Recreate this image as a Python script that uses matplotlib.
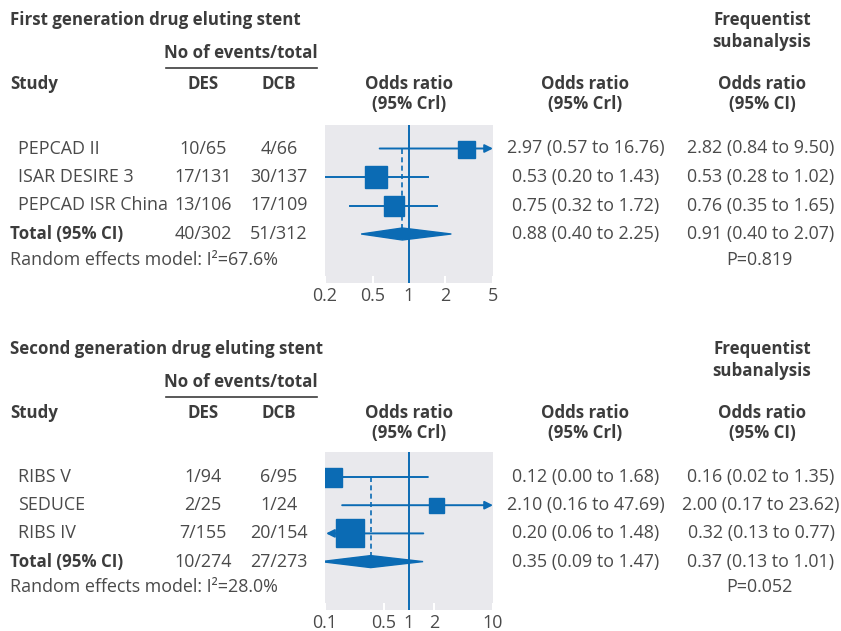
import numpy as np
import matplotlib
matplotlib.use("Agg")
import matplotlib.pyplot as plt
from matplotlib.patches import Polygon
from matplotlib import transforms

plt.rcParams['font.family'] = ['Open Sans', 'DejaVu Sans']

# ---------- data ----------
gen1_titles = "First generation drug eluting stent"
gen1_studies = ["PEPCAD II", "ISAR DESIRE 3", "PEPCAD ISR China"]
gen1_des = ["10/65", "17/131", "13/106"]
gen1_dcb = ["4/66", "30/137", "17/109"]
gen1_total = ("40/302", "51/312")
gen1_or = [2.97, 0.53, 0.75]
gen1_lo = [0.57, 0.20, 0.32]
gen1_hi = [16.76, 1.43, 1.72]
gen1_pool = (0.88, 0.40, 2.25)
gen1_freq = [(2.82, 0.84, 9.50), (0.53, 0.28, 1.02), (0.76, 0.35, 1.65)]
gen1_freq_pool = (0.91, 0.40, 2.07)
gen1_i2 = 67.6
gen1_p = "0.819"
gen1_weight = [17, 23, 20]          # square side, px
gen1_ticks = [0.2, 0.5, 1, 2, 5]

gen2_titles = "Second generation drug eluting stent"
gen2_studies = ["RIBS V", "SEDUCE", "RIBS IV"]
gen2_des = ["1/94", "2/25", "7/155"]
gen2_dcb = ["6/95", "1/24", "20/154"]
gen2_total = ("10/274", "27/273")
gen2_or = [0.12, 2.10, 0.20]
gen2_lo = [0.00, 0.16, 0.06]
gen2_hi = [1.68, 47.69, 1.48]
gen2_pool = (0.35, 0.09, 1.47)
gen2_freq = [(0.16, 0.02, 1.35), (2.00, 0.17, 23.62), (0.32, 0.13, 0.77)]
gen2_freq_pool = (0.37, 0.13, 1.01)
gen2_i2 = 28.0
gen2_p = "0.052"
gen2_weight = [19, 15, 28]
gen2_ticks = [0.1, 0.5, 1, 2, 10]

BLUE = "#0b6bb4"
PANEL = "#e9e9ed"
DARK = "#3c3c3c"
TXT = "#4a4a4a"
FS_B = 12.2
FS_R = 12.9

W, H = 841, 631
fig = plt.figure(figsize=(W / 100, H / 100), dpi=100)


def fx(x):
    return x / W


def fy(y):
    return 1 - y / H


def fmt_ci(est, lo, hi):
    return f"{est:.2f} ({lo:.2f} to {hi:.2f})"


def draw_section(top, title, studies, des, dcb, total, ors, los, his, pool,
                 freq, freq_pool, i2, pval, weights, ticks, ax_box, row0, step):
    kw_b = dict(fontsize=FS_B, fontweight='bold', color=DARK, va='center')
    kw_r = dict(fontsize=FS_R, color=TXT, va='center')

    # header block
    fig.text(fx(10), fy(top), title, ha='left', **kw_b)
    fig.text(fx(762), fy(top), "Frequentist", ha='center', **kw_b)
    fig.text(fx(762), fy(top + 22), "subanalysis", ha='center', **kw_b)
    fig.text(fx(241), fy(top + 33), "No of events/total", ha='center', **kw_b)
    fig.add_artist(plt.Line2D([fx(166), fx(317)], [fy(top + 48), fy(top + 48)],
                              color=DARK, lw=1.2))
    fig.text(fx(10), fy(top + 64), "Study", ha='left', **kw_b)
    fig.text(fx(203), fy(top + 64), "DES", ha='center', **kw_b)
    fig.text(fx(279), fy(top + 64), "DCB", ha='center', **kw_b)
    for cx, lab in [(409, "(95% Crl)"), (585, "(95% Crl)"), (762, "(95% CI)")]:
        fig.text(fx(cx), fy(top + 64), "Odds ratio", ha='center', **kw_b)
        fig.text(fx(cx), fy(top + 84), lab, ha='center', **kw_b)

    # forest panel
    x0, y0, x1, y1 = ax_box
    ax = fig.add_axes([fx(x0), fy(y1), (x1 - x0) / W, (y1 - y0) / H])
    ax.set_facecolor(PANEL)
    for s in ax.spines.values():
        s.set_visible(False)
    ax.set_xscale('log')
    ax.set_xlim(ticks[0], ticks[-1])
    ax.set_ylim((y1 - row0) / step, (y0 - row0) / step)
    ax.set_yticks([])
    ax.set_xticks(ticks)
    ax.set_xticklabels([f"{t:g}" for t in ticks])
    ax.minorticks_off()
    ax.tick_params(axis='x', direction='in', length=5, width=1.5, color='white',
                   labelsize=FS_R, labelcolor=TXT, pad=3)

    ax.axvline(1, color=BLUE, lw=1.4, zorder=2)
    n = len(studies)
    ax.plot([pool[0], pool[0]], [0, n], color=BLUE, lw=1.2, ls=(0, (3, 2)), zorder=2)

    xmin, xmax = ticks[0], ticks[-1]
    for i in range(n):
        lo, hi = los[i], his[i]
        if hi > xmax:
            ax.annotate('', xy=(xmax, i), xytext=(max(lo, xmin), i),
                        arrowprops=dict(arrowstyle='-|>', color=BLUE, lw=1.4,
                                        mutation_scale=12, shrinkA=0, shrinkB=0))
        elif lo < xmin:
            ax.annotate('', xy=(xmin * 1.03, i), xytext=(hi, i),
                        arrowprops=dict(arrowstyle='-|>', color=BLUE, lw=1.4,
                                        mutation_scale=12, shrinkA=0, shrinkB=0))
        else:
            ax.plot([lo, hi], [i, i], color=BLUE, lw=1.4, zorder=3)
        ax.plot(ors[i], i, marker='s', ms=weights[i] * 0.72, color=BLUE,
                mec=BLUE, zorder=4)

    hh = 6 / step
    est, plo, phi = pool
    ax.add_patch(Polygon([(plo, n), (est, n - hh), (phi, n), (est, n + hh)],
                         closed=True, color=BLUE, zorder=4))

    # table rows, aligned with the panel rows
    tr = transforms.blended_transform_factory(fig.transFigure, ax.transData)
    for i in range(n):
        fig.text(fx(18), i, studies[i], ha='left', transform=tr, **kw_r)
        fig.text(fx(203), i, des[i], ha='center', transform=tr, **kw_r)
        fig.text(fx(279), i, dcb[i], ha='center', transform=tr, **kw_r)
        fig.text(fx(586), i, fmt_ci(ors[i], los[i], his[i]), ha='center',
                 transform=tr, **kw_r)
        fig.text(fx(761), i, fmt_ci(*freq[i]), ha='center', transform=tr, **kw_r)
    fig.text(fx(10), n, "Total (95% CI)", ha='left', transform=tr, **kw_b)
    fig.text(fx(203), n, total[0], ha='center', transform=tr, **kw_r)
    fig.text(fx(279), n, total[1], ha='center', transform=tr, **kw_r)
    fig.text(fx(586), n, fmt_ci(*pool), ha='center', transform=tr, **kw_r)
    fig.text(fx(761), n, fmt_ci(*freq_pool), ha='center', transform=tr, **kw_r)
    fig.text(fx(10), n + 0.9, f"Random effects model: I²={i2:.1f}%", ha='left',
             transform=tr, **kw_r)
    fig.text(fx(759), n + 0.9, f"P={pval}", ha='center', transform=tr, **kw_r)
    return ax


draw_section(20, gen1_titles, gen1_studies, gen1_des, gen1_dcb, gen1_total,
             gen1_or, gen1_lo, gen1_hi, gen1_pool, gen1_freq, gen1_freq_pool,
             gen1_i2, gen1_p, gen1_weight, gen1_ticks,
             (325, 125, 493, 283), 148.5, 28.5)
draw_section(349, gen2_titles, gen2_studies, gen2_des, gen2_dcb, gen2_total,
             gen2_or, gen2_lo, gen2_hi, gen2_pool, gen2_freq, gen2_freq_pool,
             gen2_i2, gen2_p, gen2_weight, gen2_ticks,
             (325, 452, 493, 610), 477, 28.2)

fig.savefig("out.png", dpi=100)
